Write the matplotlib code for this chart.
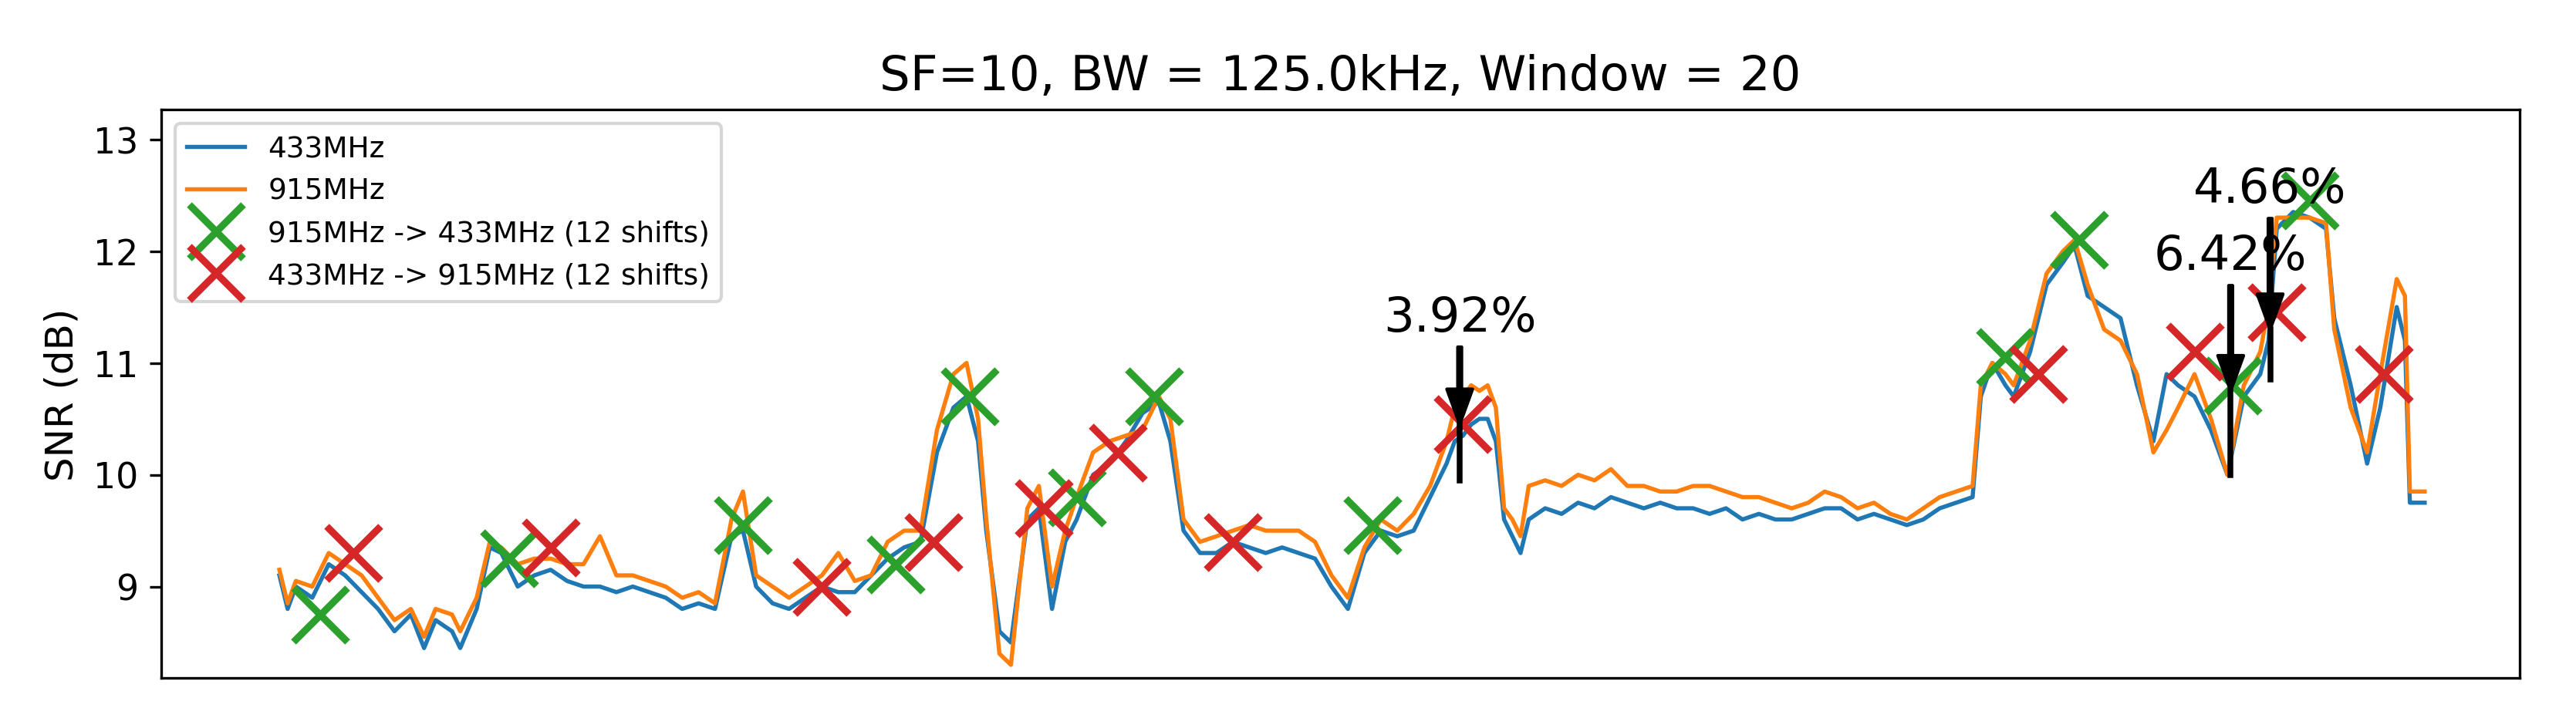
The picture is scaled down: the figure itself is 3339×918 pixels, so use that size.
import matplotlib
matplotlib.use("Agg")
import matplotlib.pyplot as plt

t = [170,175,180,190,200,210,220,230,240,250,258,265,275,280,290,298,305,315,325,335,345,355,365,375,385,395,405,415,425,435,445,452,460,470,480,490,500,510,520,530,540,550,560,570,580,588,595,600,608,615,625,632,640,648,655,665,675,685,695,705,712,720,730,740,750,760,770,780,790,800,810,820,830,840,850,860,870,880,885,890,895,900,905,910,915,920,925,930,940,950,960,970,980,990,1000,1010,1020,1030,1040,1050,1060,1070,1080,1090,1100,1110,1120,1130,1140,1150,1160,1170,1180,1190,1200,1205,1212,1220,1225,1235,1245,1255,1262,1270,1280,1290,1300,1310,1318,1325,1335,1345,1355,1365,1375,1380,1385,1395,1405,1415,1420,1430,1440,1448,1458,1463,1466,1475]
snr433 = [9.1,8.8,9.0,8.9,9.2,9.1,8.95,8.8,8.6,8.75,8.45,8.7,8.6,8.45,8.8,9.35,9.3,9.0,9.1,9.15,9.05,9.0,9.0,8.95,9.0,8.95,8.9,8.8,8.85,8.8,9.45,9.5,9.0,8.85,8.8,8.9,9.0,8.95,8.95,9.1,9.25,9.35,9.4,10.2,10.6,10.7,10.3,9.5,8.6,8.5,9.6,9.7,8.8,9.4,9.6,10.0,10.1,10.3,10.55,10.65,10.3,9.5,9.3,9.3,9.4,9.35,9.3,9.35,9.3,9.25,9.0,8.8,9.3,9.5,9.45,9.5,9.8,10.1,10.3,10.35,10.45,10.5,10.5,10.3,9.6,9.45,9.3,9.6,9.7,9.65,9.75,9.7,9.8,9.75,9.7,9.75,9.7,9.7,9.65,9.7,9.6,9.65,9.6,9.6,9.65,9.7,9.7,9.6,9.65,9.6,9.55,9.6,9.7,9.75,9.8,10.7,11.0,10.8,10.7,11.1,11.7,11.9,12.05,11.6,11.5,11.4,10.8,10.3,10.9,10.8,10.7,10.4,10.0,10.7,10.9,11.2,12.2,12.35,12.3,12.2,11.4,10.8,10.1,10.6,11.5,11.2,9.75,9.75]
snr915 = [9.15,8.85,9.05,9.0,9.3,9.2,9.1,8.9,8.7,8.8,8.55,8.8,8.75,8.6,8.9,9.4,9.35,9.2,9.25,9.25,9.2,9.2,9.45,9.1,9.1,9.05,9.0,8.9,8.95,8.85,9.6,9.85,9.1,9.0,8.9,9.0,9.1,9.3,9.05,9.1,9.4,9.5,9.5,10.4,10.9,11.0,10.5,9.6,8.4,8.3,9.7,9.9,9.0,9.5,9.8,10.2,10.3,10.35,10.4,10.7,10.5,9.6,9.4,9.45,9.5,9.55,9.5,9.5,9.5,9.4,9.1,8.9,9.35,9.6,9.5,9.65,9.9,10.3,10.6,10.7,10.8,10.75,10.8,10.6,9.7,9.6,9.45,9.9,9.95,9.9,10.0,9.95,10.05,9.9,9.9,9.85,9.85,9.9,9.9,9.85,9.8,9.8,9.75,9.7,9.75,9.85,9.8,9.7,9.75,9.65,9.6,9.7,9.8,9.85,9.9,10.8,11.0,10.9,10.8,11.2,11.8,12.0,12.1,11.7,11.3,11.2,10.9,10.2,10.4,10.6,10.9,10.5,10.0,10.8,11.1,11.5,12.3,12.3,12.3,12.25,11.3,10.6,10.2,10.9,11.75,11.6,9.85,9.85]

g_t = [195,310,452,545,590,655,702,835,1220,1265,1358,1405]
g_v = [8.75,9.25,9.55,9.2,10.7,9.8,10.7,9.55,11.05,12.1,10.8,12.45]
r_t = [215,335,500,568,635,680,750,890,1240,1335,1385,1450]
r_v = [9.3,9.35,9.0,9.4,9.7,10.2,9.4,10.45,10.9,11.1,11.45,10.9]

ann_text = ["3.92%", "6.42%", "4.66%"]
ann_t = [888, 1357, 1381]
ann_head = [10.45, 10.75, 11.3]
ann_tail = [9.95, 10.0, 10.85]
ann_txt_y = [11.2, 11.75, 12.35]

fig = plt.figure(figsize=(11.133, 3.063), dpi=300)
ax = fig.add_axes([0.0625, 0.042, 0.9155, 0.803])
ax.plot(t, snr433, color="#1f77b4", lw=1.3, label="433MHz")
ax.plot(t, snr915, color="#ff7f0e", lw=1.3, label="915MHz")
ax.plot(g_t, g_v, ls="none", marker="x", ms=17, mew=2.2, color="#2ca02c", label="915MHz -> 433MHz (12 shifts)")
ax.plot(r_t, r_v, ls="none", marker="x", ms=17, mew=2.2, color="#d62728", label="433MHz -> 915MHz (12 shifts)")
for s, x, h, tl, ty in zip(ann_text, ann_t, ann_head, ann_tail, ann_txt_y):
    ax.annotate(s, xy=(x, h), xytext=(x, ty), ha="center", va="bottom", fontsize=15,
                arrowprops=dict(facecolor="black", edgecolor="black", width=1.2, headwidth=8, headlength=11, shrink=0.0))
    ax.plot([x, x], [h, tl], color="black", lw=1.8)
ax.set_xlim(98, 1533)
ax.set_ylim(8.18, 13.27)
ax.set_xticks([])
ax.set_yticks([9, 10, 11, 12, 13])
ax.tick_params(labelsize=11)
ax.set_ylabel("SNR (dB)", fontsize=12)
ax.set_title("SF=10, BW = 125.0kHz, Window = 20", fontsize=15)
ax.legend(loc="upper left", fontsize=9)
fig.savefig("out.png")
